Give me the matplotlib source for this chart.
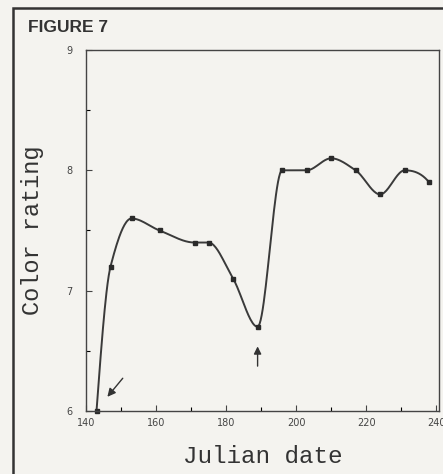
import numpy as np
import matplotlib
matplotlib.use("Agg")
import matplotlib.pyplot as plt
from matplotlib.patches import Rectangle

julian_date = [143, 147, 153, 161, 171, 175, 182, 189, 196, 203, 210, 217, 224, 231, 238]
color_rating = [6.0, 7.2, 7.6, 7.5, 7.4, 7.4, 7.1, 6.7, 8.0, 8.0, 8.1, 8.0, 7.8, 8.0, 7.9]
x_ticks = [140, 160, 180, 200, 220, 240]
y_ticks = [6, 7, 8, 9]


def smooth(x, y, n=24):
    # monotone (Fritsch-Carlson) Hermite curve through the data points (drawing only)
    x = np.asarray(x, float); y = np.asarray(y, float)
    h = np.diff(x); d = np.diff(y) / h
    m = np.zeros_like(y)
    for k in range(1, len(x) - 1):
        if d[k - 1] * d[k] <= 0:
            m[k] = 0.0
        else:
            w1 = 2 * h[k] + h[k - 1]; w2 = h[k] + 2 * h[k - 1]
            m[k] = (w1 + w2) / (w1 / d[k - 1] + w2 / d[k])
    m[0] = ((2 * h[0] + h[1]) * d[0] - h[0] * d[1]) / (h[0] + h[1])
    if np.sign(m[0]) != np.sign(d[0]):
        m[0] = 0
    m[-1] = ((2 * h[-1] + h[-2]) * d[-1] - h[-1] * d[-2]) / (h[-1] + h[-2])
    if np.sign(m[-1]) != np.sign(d[-1]):
        m[-1] = 0
    xs, ys = [], []
    for i in range(len(x) - 1):
        t = np.linspace(0, 1, n, endpoint=False)
        h00 = 2 * t**3 - 3 * t**2 + 1
        h10 = t**3 - 2 * t**2 + t
        h01 = -2 * t**3 + 3 * t**2
        h11 = t**3 - t**2
        xs.append(x[i] + t * h[i])
        ys.append(h00 * y[i] + h10 * h[i] * m[i] + h01 * y[i + 1] + h11 * h[i] * m[i + 1])
    xs.append([x[-1]]); ys.append([y[-1]])
    return np.concatenate(xs), np.concatenate(ys)


bg = "#f4f3ef"
fig = plt.figure(figsize=(4.43, 4.74), dpi=100, facecolor=bg)

# outer figure frame
fig.patches.append(Rectangle((13 / 443, -0.05), 1.2, 1 - 8 / 474 + 0.05, transform=fig.transFigure,
                             fill=False, edgecolor="#333333", linewidth=1.8))
fig.text(28 / 443, 1 - 27 / 474, "FIGURE 7", fontsize=12.5, fontweight="bold",
         family="Liberation Sans", color="#333333", va="center", ha="left")

ax = fig.add_axes([86 / 443, 1 - 411 / 474, (439 - 86) / 443, (411 - 50) / 474])
ax.set_facecolor(bg)
sx, sy = smooth(julian_date, color_rating)
ax.plot(sx, sy, color="#3a3a3a", linewidth=1.4)
ax.plot(julian_date, color_rating, "s", color="#2a2a2a", markersize=3.2, clip_on=False)

ax.set_xlim(140, 240.8)
ax.set_ylim(6, 9)
ax.set_xticks(x_ticks)
ax.set_yticks(y_ticks)
ax.set_xticks(np.arange(150, 240, 20), minor=True)
ax.set_yticks([6.5, 7.5, 8.5], minor=True)
ax.tick_params(direction="in", length=4, width=0.8, labelsize=7, colors="#444444", pad=5)
ax.tick_params(axis="y", pad=10)
ax.tick_params(which="minor", direction="in", length=3, width=0.8)
for s in ax.spines.values():
    s.set_color("#444444")
    s.set_linewidth(1.0)

ax.set_xlabel("Julian date", family="Liberation Mono", fontsize=17.5, color="#333333", labelpad=12)
ax.set_ylabel("Color rating", family="Liberation Mono", fontsize=17, color="#333333", labelpad=16)

ax.annotate("", xy=(145.6, 6.1), xytext=(151, 6.29),
            arrowprops=dict(arrowstyle="-|>", color="#333333", lw=1.0, mutation_scale=12))
ax.annotate("", xy=(julian_date[7], 6.56), xytext=(julian_date[7], 6.35),
            arrowprops=dict(arrowstyle="-|>", color="#333333", lw=1.0, mutation_scale=11))

fig.savefig("out.png", dpi=100, facecolor=bg)
